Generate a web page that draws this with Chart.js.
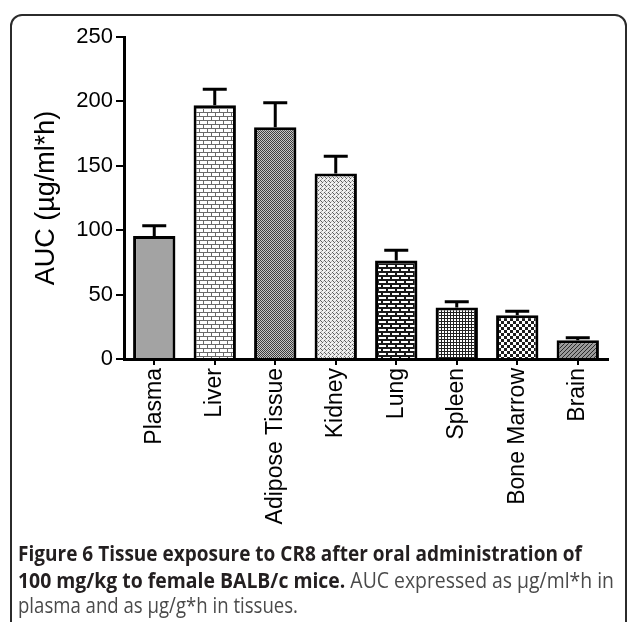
<!DOCTYPE html>
<html>
<head>
<meta charset="utf-8">
<script src="https://cdn.jsdelivr.net/npm/chart.js@4.4.1/dist/chart.umd.min.js"></script>
<style>
    html, body { margin: 0; padding: 0; background: #fff; }
    body { width: 628px; height: 622px; position: relative; overflow: hidden; }
    #frame {
        position: absolute; left: 10px; top: 14px; width: 617px; height: 700px;
        box-sizing: border-box; border: 2px solid #2b2b2b; border-radius: 12px;
    }
    #chart { position: absolute; left: 0; top: 0; }
    .cap {
        position: absolute; left: 18px; white-space: nowrap;
        font-family: "Open Sans", sans-serif; font-size: 22px; line-height: 27px;
        color: #4a4a4a; transform-origin: 0 0;
    }
    .cap b { color: #231f20; }
</style>
</head>
<body>
<div id="frame"></div>
<canvas id="chart" width="628" height="540"></canvas>
<div class="cap" id="cap1" data-w="564" style="top:539px"><b>Figure 6 Tissue exposure to CR8 after oral administration of</b></div>
<div class="cap" id="cap2" data-w="596" style="top:566px"><b>100 mg/kg to female BALB/c mice.</b> AUC expressed as µg/ml*h in</div>
<div class="cap" id="cap3" data-w="280" style="top:591px">plasma and as µg/g*h in tissues.</div>

<script>
// Data
const tissues = ['Plasma', 'Liver', 'Adipose Tissue', 'Kidney', 'Lung', 'Spleen', 'Bone Marrow', 'Brain'];
const aucMean = [95.5, 197, 180, 144, 76.5, 40, 34, 14.5];
const aucErr = [8, 12.5, 19, 13.5, 8, 4.5, 3, 2];
const yTicks = [0, 50, 100, 150, 200, 250];

// Small tile patterns to mimic the printed bar fills
function tile(w, h, draw) {
    const c = document.createElement('canvas');
    c.width = w; c.height = h;
    const g = c.getContext('2d');
    draw(g);
    return c.getContext('2d').createPattern(c, 'repeat');
}

const fills = [
    '#a3a3a3',
    // liver: white bricks, grey mortar
    tile(8, 8, g => {
        g.fillStyle = '#6a6a6a'; g.fillRect(0, 0, 8, 8);
        g.fillStyle = '#fff';
        g.fillRect(0, 1, 7, 3);
        g.fillRect(4, 5, 7, 3); g.fillRect(0, 5, 3, 3);
    }),
    // adipose: fine dark stipple
    tile(2, 2, g => {
        g.fillStyle = '#c4c4c4'; g.fillRect(0, 0, 2, 2);
        g.fillStyle = '#3c3c3c'; g.fillRect(0, 0, 1, 1); g.fillRect(1, 1, 1, 1);
    }),
    // kidney: light stipple
    tile(4, 4, g => {
        g.fillStyle = '#efefef'; g.fillRect(0, 0, 4, 4);
        g.fillStyle = '#5e5e5e';
        g.fillRect(0, 0, 1, 1); g.fillRect(1, 1, 1, 1); g.fillRect(2, 2, 1, 1);
        g.fillStyle = '#b0b0b0'; g.fillRect(3, 1, 1, 1); g.fillRect(1, 3, 1, 1);
    }),
    // lung: white bricks, black mortar
    tile(9, 8, g => {
        g.fillStyle = '#1a1a1a'; g.fillRect(0, 0, 9, 8);
        g.fillStyle = '#fff';
        g.fillRect(1, 1, 7, 2);
        g.fillRect(5, 5, 7, 2); g.fillRect(0, 5, 3, 2);
    }),
    // spleen: fine grid
    tile(3, 3, g => {
        g.fillStyle = '#fff'; g.fillRect(0, 0, 3, 3);
        g.fillStyle = '#222'; g.fillRect(0, 0, 3, 1); g.fillRect(0, 0, 1, 3);
    }),
    // bone marrow: checkerboard
    tile(6, 6, g => {
        g.fillStyle = '#fff'; g.fillRect(0, 0, 6, 6);
        g.fillStyle = '#1e1e1e'; g.fillRect(0, 0, 3, 3); g.fillRect(3, 3, 3, 3);
    }),
    // brain: dark diagonal hatch
    tile(4, 4, g => {
        g.fillStyle = '#9a9a9a'; g.fillRect(0, 0, 4, 4);
        g.fillStyle = '#2a2a2a';
        g.fillRect(3, 0, 1, 1); g.fillRect(2, 1, 1, 1); g.fillRect(1, 2, 1, 1); g.fillRect(0, 3, 1, 1);
    })
];

// Upper error bars with caps, drawn on top of the bars
const errorBars = {
    id: 'errorBars',
    afterDatasetsDraw(chart) {
        const ctx = chart.ctx;
        const y = chart.scales.y;
        const meta = chart.getDatasetMeta(0);
        ctx.save();
        ctx.strokeStyle = '#000';
        ctx.lineWidth = 3;
        meta.data.forEach((bar, i) => {
            const y0 = y.getPixelForValue(aucMean[i]);
            const y1 = y.getPixelForValue(aucMean[i] + aucErr[i]);
            ctx.beginPath();
            ctx.moveTo(bar.x, y0);
            ctx.lineTo(bar.x, y1);
            ctx.moveTo(bar.x - 12, y1);
            ctx.lineTo(bar.x + 12, y1);
            ctx.stroke();
        });
        ctx.restore();
    }
};

const font = 'Liberation Sans, Arial, sans-serif';

new Chart(document.getElementById('chart'), {
    type: 'bar',
    data: {
        labels: tissues,
        datasets: [{
            data: aucMean,
            backgroundColor: fills,
            borderColor: '#000',
            borderWidth: 3,
            borderSkipped: 'bottom',
            barPercentage: 0.7,
            categoryPercentage: 1.0
        }]
    },
    options: {
        responsive: false,
        devicePixelRatio: 1,
        animation: false,
        layout: { padding: { left: 26, top: 37, right: 20, bottom: 0 } },
        plugins: { legend: { display: false }, tooltip: { enabled: false } },
        scales: {
            x: {
                grid: { offset: false, drawOnChartArea: false, drawTicks: true, tickLength: 6, color: '#000', lineWidth: 2 },
                border: { display: true, color: '#000', width: 3 },
                ticks: { minRotation: 90, maxRotation: 90, padding: 3, color: '#000', font: { family: font, size: 23 } },
                afterFit: s => { s.height = 181; }
            },
            y: {
                min: yTicks[0],
                max: yTicks[yTicks.length - 1],
                afterBuildTicks: s => { s.ticks = yTicks.map(v => ({ value: v })); },
                grid: { drawOnChartArea: false, drawTicks: true, tickLength: 8, color: '#000', lineWidth: 2 },
                border: { display: true, color: '#000', width: 3 },
                ticks: { padding: 3, color: '#000', font: { family: font, size: 22 } },
                title: { display: true, text: 'AUC (µg/ml*h)', color: '#000', padding: { top: 4, bottom: 4 }, font: { family: font, size: 27 } },
                afterFit: s => { s.width = 98; }
            }
        }
    },
    plugins: [errorBars]
});

// squeeze each caption line to the width it has in the figure
document.querySelectorAll('.cap').forEach(el => {
    const w = el.getBoundingClientRect().width;
    el.style.transform = 'scaleX(' + (parseFloat(el.dataset.w) / w) + ')';
});
</script>
</body>
</html>
